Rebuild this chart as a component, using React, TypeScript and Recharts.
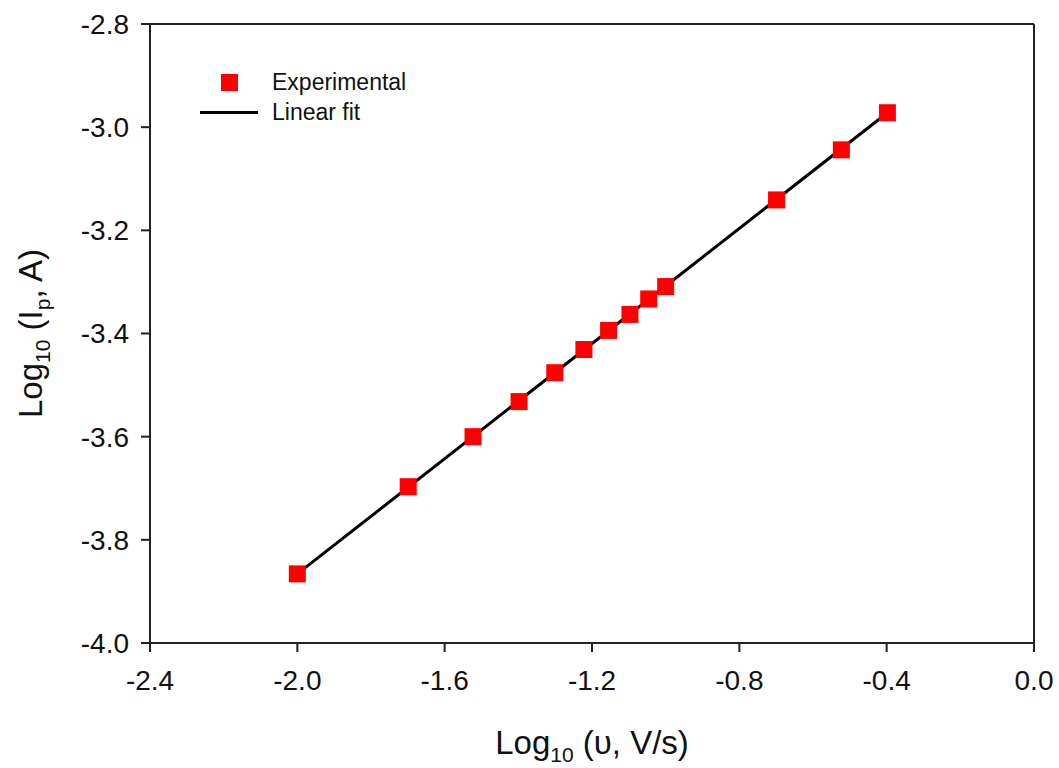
import React from 'react'
import { Label, Legend, ReferenceLine, Scatter, ScatterChart, XAxis, YAxis } from 'recharts'

// log10 of scan rate (V/s) and peak current (A)
const LOG_SCAN_RATE = [-2.0, -1.699, -1.523, -1.398, -1.301, -1.222, -1.155, -1.097, -1.046, -1.0, -0.699, -0.523, -0.398]
const LOG_PEAK_CURRENT = [-3.866, -3.697, -3.6, -3.532, -3.476, -3.431, -3.394, -3.363, -3.333, -3.309, -3.141, -3.044, -2.972]

// fitted line
const FIT_X = [-2.0, -0.398]
const FIT_Y = [-3.866, -2.972]

const X_TICKS = [-2.4, -2.0, -1.6, -1.2, -0.8, -0.4, 0.0]
const Y_TICKS = [-4.0, -3.8, -3.6, -3.4, -3.2, -3.0, -2.8]

const FONT = 'Arial, "Liberation Sans", Helvetica, sans-serif'
const AXIS = '#222'

const experimental = LOG_SCAN_RATE.map((x, i) => ({ x, y: LOG_PEAK_CURRENT[i] }))
const fit = FIT_X.map((x, i) => ({ x, y: FIT_Y[i] }))

function Square(p: any) {
  const s = 17
  return <rect x={p.cx - s / 2} y={p.cy - s / 2} width={s} height={s} fill="#ff0000" />
}

function XTitle(p: any) {
  const vb = p.viewBox
  return (
    <text x={vb.x + vb.width / 2} y={vb.y + 111} textAnchor="middle" fontFamily={FONT} fontSize={33} fill="#111">
      <tspan>Log</tspan>
      <tspan fontSize={21} dy={8}>10</tspan>
      <tspan dy={-8}> (υ, V/s)</tspan>
    </text>
  )
}

function YTitle(p: any) {
  const vb = p.viewBox
  const cx = 42
  const cy = vb.y + vb.height / 2
  return (
    <text x={cx} y={cy} transform={`rotate(-90 ${cx} ${cy})`} textAnchor="middle" fontFamily={FONT} fontSize={33} fill="#111">
      <tspan>Log</tspan>
      <tspan fontSize={21} dy={8}>10</tspan>
      <tspan dy={-8}> (I</tspan>
      <tspan fontSize={21} dy={8}>p</tspan>
      <tspan dy={-8}>, A)</tspan>
    </text>
  )
}

function LegendBox() {
  const row: React.CSSProperties = { display: 'flex', alignItems: 'center', height: 30 }
  const text: React.CSSProperties = { fontFamily: FONT, fontSize: 23, color: '#111', marginLeft: 14 }
  return (
    <div>
      <div style={row}>
        <div style={{ width: 58, display: 'flex', justifyContent: 'center' }}>
          <div style={{ width: 17, height: 17, background: '#ff0000' }} />
        </div>
        <span style={text}>Experimental</span>
      </div>
      <div style={row}>
        <div style={{ width: 58, height: 3, background: '#000' }} />
        <span style={text}>Linear fit</span>
      </div>
    </div>
  )
}

export default function App() {
  const tick = { fontFamily: FONT, fontSize: 28, fill: '#111' }
  return (
    <div style={{ position: 'absolute', left: 0, top: 0, background: '#fff' }}>
      <ScatterChart width={1059} height={768} margin={{ top: 24, right: 25, bottom: 0, left: 0 }}>
        <XAxis
          dataKey="x"
          type="number"
          domain={[-2.4, 0]}
          ticks={X_TICKS}
          tickFormatter={(v) => Number(v).toFixed(1)}
          height={125}
          tick={tick}
          tickSize={9}
          tickMargin={18}
          stroke={AXIS}
          strokeWidth={2}
          allowDataOverflow
        >
          <Label content={XTitle} />
        </XAxis>
        <YAxis
          dataKey="y"
          type="number"
          domain={[-4.0, -2.8]}
          ticks={Y_TICKS}
          tickFormatter={(v) => Number(v).toFixed(1)}
          width={150}
          tick={tick}
          tickSize={9}
          tickMargin={12}
          stroke={AXIS}
          strokeWidth={2}
          allowDataOverflow
        >
          <Label content={YTitle} />
        </YAxis>
        <ReferenceLine y={-2.8} stroke={AXIS} strokeWidth={2} />
        <ReferenceLine x={0} stroke={AXIS} strokeWidth={2} />
        <Legend
          layout="vertical"
          align="center"
          verticalAlign="middle"
          content={LegendBox}
          wrapperStyle={{ left: 200, top: 67, width: 260 }}
        />
        <Scatter
          name="Linear fit"
          data={fit}
          fill="#000"
          line={{ stroke: '#000', strokeWidth: 3 }}
          shape={() => <g />}
          isAnimationActive={false}
        />
        <Scatter name="Experimental" data={experimental} fill="#ff0000" shape={Square} isAnimationActive={false} />
      </ScatterChart>
    </div>
  )
}
